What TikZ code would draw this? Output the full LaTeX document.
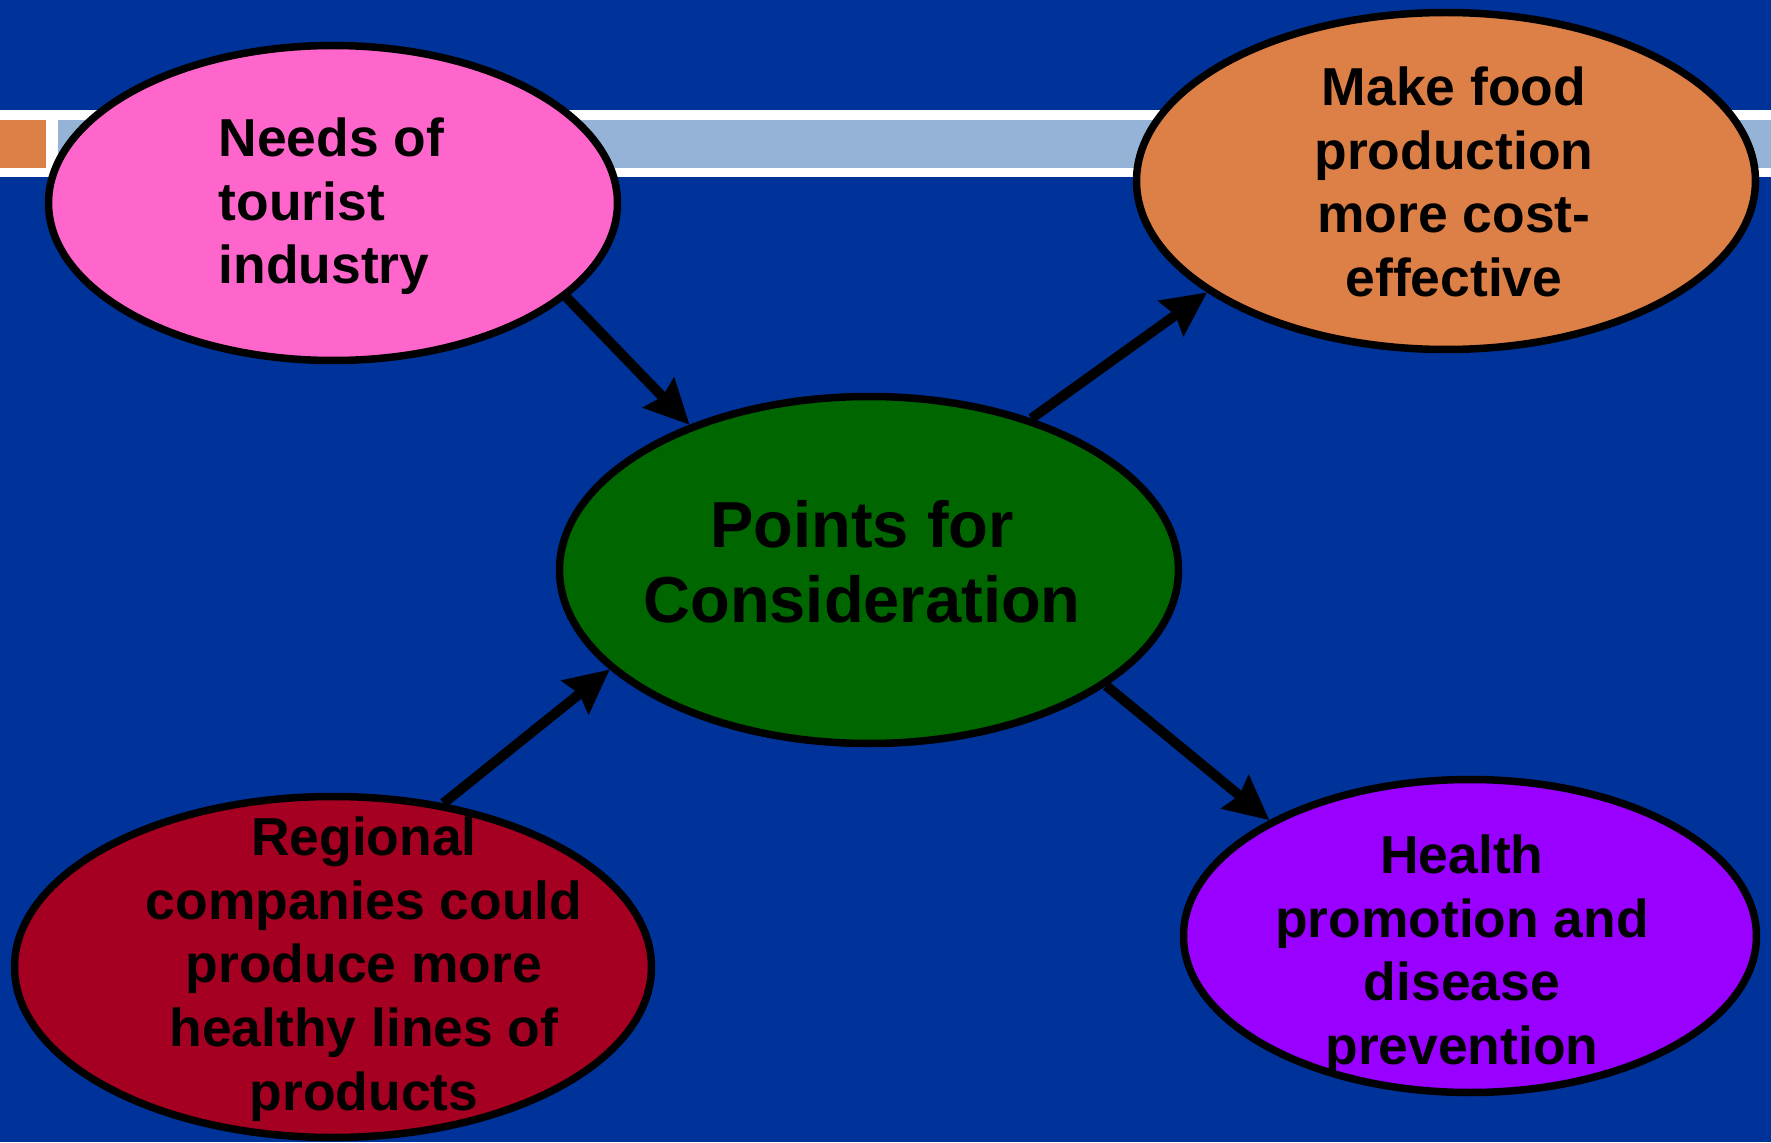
\documentclass[tikz,border=0pt]{standalone}
\usepackage{fontspec}
\setmainfont{Liberation Sans}
\usepackage{tikz}
\definecolor{mBack}{HTML}{003399}
\definecolor{mBand}{HTML}{95B3D7}
\definecolor{mPink}{HTML}{FF66CC}
\definecolor{mOrange}{HTML}{DD8047}
\definecolor{mGreen}{HTML}{006600}
\definecolor{mRed}{HTML}{A50021}
\definecolor{mPurple}{HTML}{9900FF}
\usetikzlibrary{shapes.geometric, arrows.meta}
\tikzstyle{oval} = [ellipse, inner sep=0pt, line width=0.075cm, draw=black]
\tikzstyle{txt} = [inner sep=0pt, text=black, font=\fontsize{15.2}{18.1}\selectfont\bfseries]
\tikzstyle{bigtxt} = [inner sep=0pt, text=black, font=\fontsize{18.5}{21.2}\selectfont\bfseries]
\tikzstyle{arrow} = [line width=0.1cm,-{Stealth[length=0.44cm,width=0.42cm,inset=0.05cm]}]

\begin{document}
\begin{tikzpicture}
    % background and title band
    \fill [mBack] (0,0) rectangle (17.71,11.42);
    \useasboundingbox (0,0) rectangle (17.71,11.42);
    \fill [white] (0,9.65) rectangle (17.71,10.32);
    \fill [mBand] (0.58,9.74) rectangle (17.71,10.22);
    \fill [mOrange] (0,9.74) rectangle (0.46,10.22);

    \node (points) [oval, fill=mGreen, minimum width=6.19cm, minimum height=3.47cm] at (8.69,5.72) {};
    \node (needs) [oval, fill=mPink, minimum width=5.69cm, minimum height=3.15cm] at (3.33,9.39) {};
    \node (food) [oval, fill=mOrange, minimum width=6.19cm, minimum height=3.37cm] at (14.46,9.61) {};
    \node (regional) [oval, fill=mRed, minimum width=6.37cm, minimum height=3.41cm] at (3.33,1.75) {};
    \node (health) [oval, fill=mPurple, minimum width=5.73cm, minimum height=3.13cm] at (14.70,2.06) {};

    \node (pointsText) [bigtxt, align=center] at (8.62,5.80) {Points for\\Consideration};
    \node (needsText) [txt, align=left, anchor=west] at (2.18,9.355) {Needs of\\tourist\\industry};
    \node (foodText) [txt, align=center] at (14.54,9.60) {Make food\\production\\more cost-\\effective};
    \node (regionalText) [txt, align=center] at (3.64,1.73)%
      {Regional\\companies could\\produce more\\healthy lines of\\products};
    \node (healthText) [txt, align=center] at (14.62,1.87)%
      {Health\\promotion and\\disease\\prevention};

    \draw [arrow] (needs.-22.8) -- (points.141.9);
    \draw [arrow] (points.43.2) -- (food.205.7);
    \draw [arrow] (regional.56.5) -- (points.201.2);
    \draw [arrow] (points.-26.2) -- (health.150.2);
  \end{tikzpicture}
\end{document}
